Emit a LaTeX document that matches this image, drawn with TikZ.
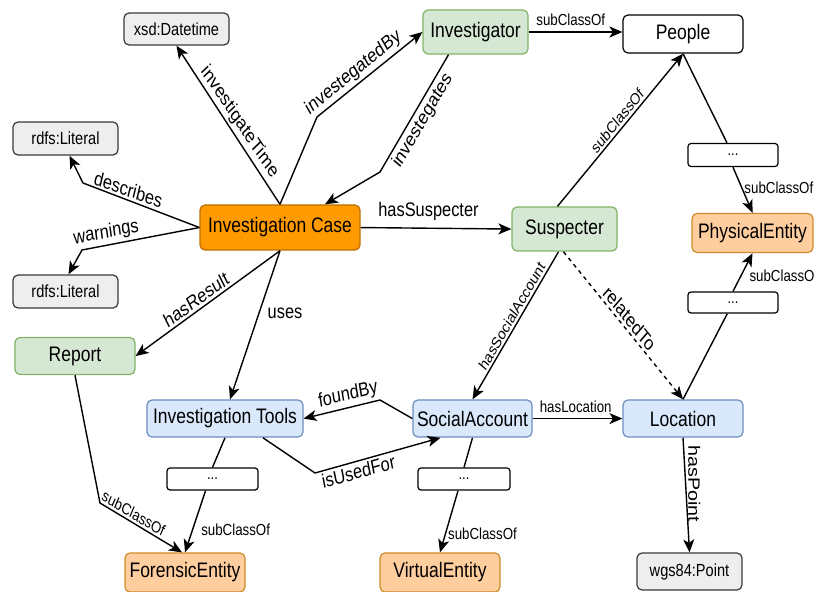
\documentclass[tikz,border=0pt]{standalone}
\usepackage{fontspec}
\setmainfont{Liberation Sans}
\usetikzlibrary{arrows.meta}

\definecolor{caseFill}{HTML}{FF9A00}
\definecolor{caseLine}{HTML}{BD7000}
\definecolor{agentFill}{HTML}{D5E8D4}
\definecolor{agentLine}{HTML}{82B366}
\definecolor{entFill}{HTML}{FFCE9F}
\definecolor{entLine}{HTML}{D08A2A}
\definecolor{toolFill}{HTML}{DAE8FC}
\definecolor{toolLine}{HTML}{6C8EBF}
\definecolor{litFill}{HTML}{EEEEEE}
\definecolor{litLine}{HTML}{36393D}

\tikzset{
  sz/.style 2 args={minimum width=#1pt, minimum height=#2pt/1.2},
  box/.style={rectangle, rounded corners=5pt, line width=1.2pt, inner sep=0pt,
    font=\fontsize{17.5}{20}\selectfont},
  casebox/.style={box, fill=caseFill, draw=caseLine},
  agentbox/.style={box, fill=agentFill, draw=agentLine},
  entitybox/.style={box, fill=entFill, draw=entLine},
  toolbox/.style={box, fill=toolFill, draw=toolLine},
  plainbox/.style={box, fill=white, draw=black},
  litbox/.style={box, fill=litFill, draw=litLine, font=\fontsize{14.6}{17}\selectfont},
  gapbox/.style={box, fill=white, draw=black, rounded corners=3pt,
    font=\fontsize{13}{15}\selectfont},
  link/.style={line width=1.4pt, -{Stealth[length=13pt,width=11pt,inset=3.5pt]}},
  plainlink/.style={line width=1.4pt},
  lbl/.style={font=\fontsize{16.4}{19}\selectfont, inner sep=2pt},
  sublbl/.style={font=\fontsize{13.3}{16}\selectfont, inner sep=2pt},
}

\begin{document}
\begin{tikzpicture}[x=1pt, y=-0.833333pt, yscale=1.2,
  every node/.append style={transform shape}]
\fill[white] (0,0) rectangle (816,592);
\useasboundingbox (0,0) rectangle (816,592);

% classes and literals
\node[litbox, sz={105}{32}] (xsd) at (176.5,29) {xsd:Datetime};
\node[litbox, sz={105}{33}] (lit1) at (65.5,138.5) {rdfs:Literal};
\node[litbox, sz={105}{33}] (lit2) at (65.5,291.5) {rdfs:Literal};
\node[agentbox, sz={105}{44}] (inv) at (475.5,32) {Investigator};
\node[plainbox, sz={120}{38}] (people) at (683,34) {People};
\node[gapbox, sz={90}{23}] (d1) at (733,155) {...};
\node[entitybox, sz={121}{39}] (phys) at (752.5,233) {PhysicalEntity};
\node[gapbox, sz={90}{21}] (d2) at (733,302.5) {...};
\node[casebox, sz={160}{45}] (case) at (280,227.5) {Investigation Case};
\node[agentbox, sz={105}{44}] (susp) at (564.5,229) {Suspecter};
\node[agentbox, sz={120}{37}] (report) at (75,356) {Report};
\node[toolbox, sz={156}{37}] (tools) at (225,418.5) {Investigation Tools};
\node[toolbox, sz={119}{37}] (social) at (472.5,418.5) {SocialAccount};
\node[toolbox, sz={120}{37}] (loc) at (683,418.5) {Location};
\node[gapbox, sz={91}{22}] (d3) at (212.5,479) {...};
\node[gapbox, sz={92}{22}] (d4) at (464,479) {...};
\node[entitybox, sz={120}{39}] (forensic) at (185,572.5) {ForensicEntity};
\node[entitybox, sz={120}{39}] (virtual) at (440,572.5) {VirtualEntity};
\node[litbox, sz={105}{37}] (wgs) at (689.5,571.5) {wgs84:Point};

% properties of the investigation case
\draw[link] (case.north) -- node[lbl, pos=0.47, rotate=-51.3, anchor=south] {investigateTime} (xsd.south);
\draw[link] (case.north) -- (317,117) -- node[lbl, pos=0.4, rotate=34.5, anchor=south] {investegatedBy} (inv.west);
\draw[link] ([xshift=-27pt]inv.south) -- node[lbl, pos=0.5, rotate=55.1, anchor=north] {investegates} (380,172) -- ([xshift=45pt]case.north);
\draw[link] (case.west) -- node[lbl, pos=0.63, rotate=-15.9, anchor=south] {describes} (83,183) -- ([xshift=4pt]lit1.south);
\draw[link] (case.west) -- node[lbl, pos=0.78, rotate=9.2, anchor=south] {warnings} (82,250) -- ([xshift=3pt]lit2.north);
\draw[link] (case.south) -- node[lbl, pos=0.55, rotate=31.1, anchor=south] {hasResult} (report.east);
\draw[link] (case.south) -- node[lbl, pos=0.42, anchor=west, xshift=6pt] {uses} ([xshift=5pt]tools.north);
\draw[link] (case.east) -- node[lbl, pos=0.45, above=4pt] {hasSuspecter} (susp.west);

% people branch
\draw[link] (inv.east) -- node[sublbl, pos=0.45, above=3pt] {subClassOf} (inv.east -| people.west);
\draw[link] ([xshift=-7pt]susp.north) -- node[sublbl, pos=0.52, rotate=45.6, anchor=south] {subClassOf} (people.south);
\draw[plainlink] (people.south) -- (d1);
\draw[link] (d1.south) -- node[sublbl, pos=0.45, anchor=west] {subClassOf} (phys.north);
\draw[plainlink] (loc.north) -- (d2);
\draw[link] (d2.north) -- node[sublbl, pos=0.4, anchor=west, xshift=6pt] {subClassO} (phys.south);

% suspect relations
\draw[link, dash pattern=on 4pt off 4pt] ([xshift=-1pt]susp.south) -- node[lbl, pos=0.5, rotate=-46, anchor=south] {relatedTo} (loc.north);
\draw[link] ([xshift=-6pt]susp.south) -- node[sublbl, pos=0.47, rotate=55.3, anchor=south] {hasSocialAccount} (social.north);
\draw[link] (social.west) -- (380,400) -- node[lbl, pos=0.39, rotate=11.3, anchor=south] {foundBy} (tools.east);
\draw[link] ([xshift=38pt]tools.south) -- (315,473) -- node[lbl, pos=0.33, rotate=13.4, anchor=north] {isUsedFor} ([xshift=-32pt]social.south);
\draw[link] (social.east) -- node[sublbl, pos=0.48, above=2pt] {hasLocation} (loc.west);
\draw[link] (loc.south) -- node[lbl, pos=0.4, rotate=-90, anchor=south] {hasPoint} (wgs.north);

% entity hierarchy
\draw[plainlink] (tools.south) -- (d3.north);
\draw[link] ([xshift=-7pt]d3.south) -- node[sublbl, pos=0.63, anchor=west, xshift=6pt] {subClassOf} (forensic.north);
\draw[plainlink] (social.south) -- (d4.north);
\draw[link] ([xshift=-6pt]d4.south) -- node[sublbl, pos=0.7, anchor=west] {subClassOf} (virtual.north);
\draw[link] (report.south) -- (100,503) -- node[sublbl, pos=0.37, rotate=-26.9, anchor=south] {subClassOf} ([xshift=-3pt]forensic.north);
\end{tikzpicture}
\end{document}
